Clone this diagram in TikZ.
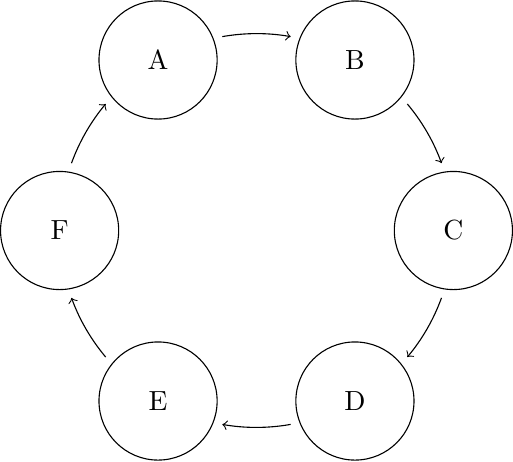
\documentclass[tikz,border=0pt]{standalone}
\begin{document}
\begin{tikzpicture}[
  state/.style={circle, draw, minimum size=1.5cm, inner sep=0pt},
  flow/.style={->}
]
\useasboundingbox (-3.257,-2.927) rectangle (3.257,2.927);
\node[state] (A) at (120:2.5) {A};
\node[state] (B) at (60:2.5) {B};
\node[state] (C) at (0:2.5) {C};
\node[state] (D) at (-60:2.5) {D};
\node[state] (E) at (-120:2.5) {E};
\node[state] (F) at (180:2.5) {F};
\draw[flow] (100:2.5) arc (100:80:2.5);
\draw[flow] (40:2.5) arc (40:20:2.5);
\draw[flow] (-20:2.5) arc (-20:-40:2.5);
\draw[flow] (-80:2.5) arc (-80:-100:2.5);
\draw[flow] (-140:2.5) arc (-140:-160:2.5);
\draw[flow] (160:2.5) arc (160:140:2.5);
\end{tikzpicture}
\end{document}
